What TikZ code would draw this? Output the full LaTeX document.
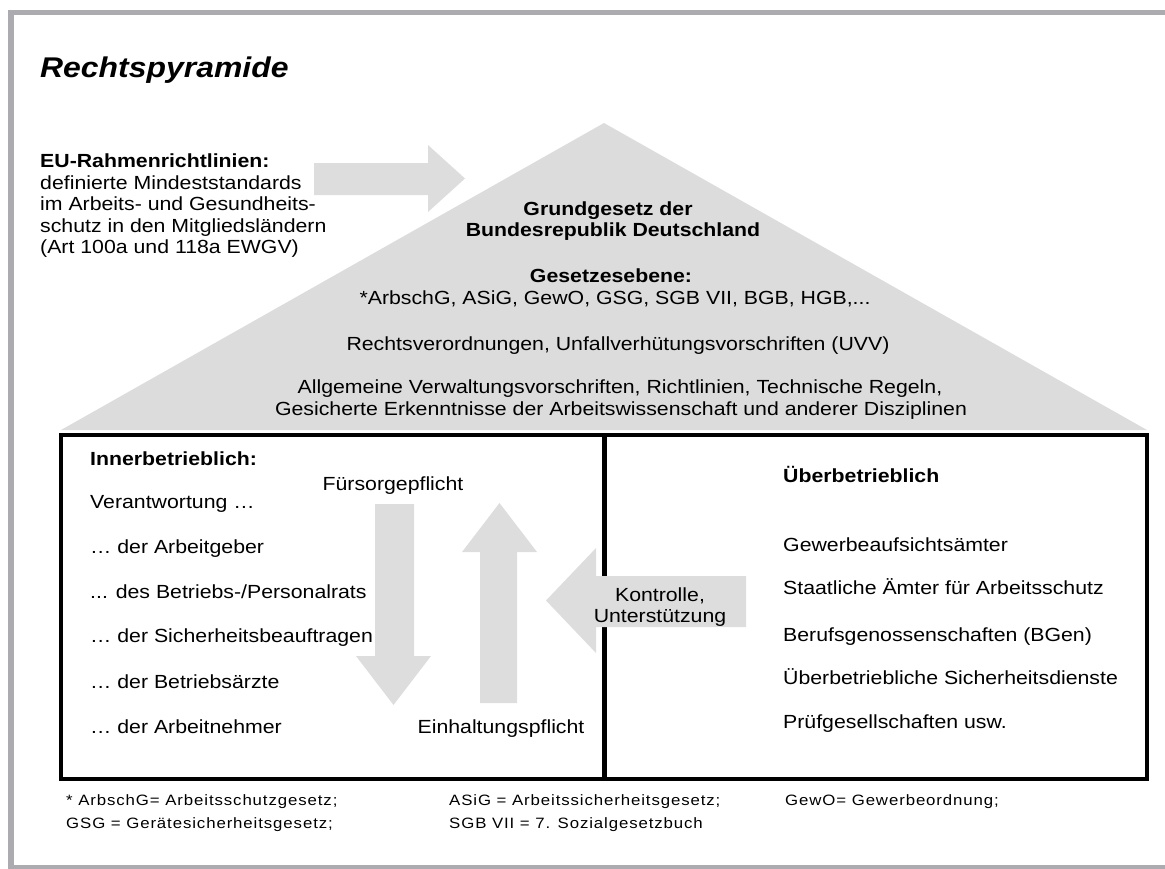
\documentclass[tikz,border=0pt]{standalone}
\usepackage{fontspec}
\setmainfont{Liberation Sans}[FakeStretch=1.12]
\newfontfamily\footfont{Liberation Sans}[FakeStretch=1.12, LetterSpace=6]
\definecolor{framegray}{HTML}{ACACB0}
\definecolor{pyrgray}{HTML}{DCDCDC}
\definecolor{arrgray}{HTML}{DDDDDD}
\begin{document}
\begin{tikzpicture}[x=1pt,y=-1pt,
  txt/.style={inner sep=0pt, font=\fontsize{19}{21}\selectfont},
  btxt/.style={inner sep=0pt, font=\fontsize{19}{21}\selectfont\bfseries},
  foot/.style={inner sep=0pt, font=\footfont\fontsize{15}{18}\selectfont},
  bigarrow/.style={fill=arrgray, draw=none}]
\useasboundingbox (0,0) rectangle (1165,868);
\clip (0,0) rectangle (1165,868);
% outer frame
\draw[framegray, line width=5.5] (11,12.5) rectangle (1185,867.5);
% title
\node[inner sep=0pt, anchor=base west, font=\fontsize{28.5}{34}\selectfont\bfseries\itshape] (title) at (40,77) {Rechtspyramide};
% pyramid
\fill[pyrgray] (61,430) -- (604,123) -- (1147,430) -- cycle;
% EU arrow
\fill[bigarrow] (314,163) -- (428,163) -- (428,145) -- (465,178.5) -- (428,212) -- (428,195) -- (314,195) -- cycle;
% EU text
\node[btxt, anchor=base west] (eu1) at (40,167) {EU-Rahmenrichtlinien:};
\node[txt, anchor=base west] (eu2) at (40,189) {definierte Mindeststandards};
\node[txt, anchor=base west] (eu3) at (40,210) {im Arbeits- und Gesundheits-};
\node[txt, anchor=base west] (eu4) at (40,232) {schutz in den Mitgliedsländern};
\node[txt, anchor=base west] (eu5) at (40,253) {(Art 100a und 118a EWGV)};
% pyramid text
\node[btxt, anchor=base] (p1) at (608,215) {Grundgesetz der};
\node[btxt, anchor=base] (p2) at (613,236) {Bundesrepublik Deutschland};
\node[btxt, anchor=base] (p3) at (611,282) {Gesetzesebene:};
\node[txt, anchor=base] (p4) at (615,304) {*ArbschG, ASiG, GewO, GSG, SGB VII, BGB, HGB,...};
\node[txt, anchor=base] (p5) at (618,350) {Rechtsverordnungen, Unfallverhütungsvorschriften (UVV)};
\node[txt, anchor=base] (p6) at (620,393) {Allgemeine Verwaltungsvorschriften, Richtlinien, Technische Regeln,};
\node[txt, anchor=base] (p7) at (621,415) {Gesicherte Erkenntnisse der Arbeitswissenschaft und anderer Disziplinen};
% box
\draw[line width=4] (61,435) rectangle (1147,779);
\draw[line width=5] (604,435) -- (604,779);
% inner arrows
\fill[bigarrow] (375,504) -- (414,504) -- (414,656) -- (431,656) -- (393.5,705) -- (356,656) -- (375,656) -- cycle;
\fill[bigarrow] (480,703) -- (517,703) -- (517,552) -- (537,552) -- (499.5,503) -- (462,552) -- (480,552) -- cycle;
\fill[bigarrow] (746,576) -- (746,627) -- (596,627) -- (596,653) -- (546,600.5) -- (596,548) -- (596,576) -- cycle;
% left box text
\node[btxt, anchor=base west] (ib) at (90,465) {Innerbetrieblich:};
\node[txt, anchor=base west] (l1) at (90,508) {Verantwortung …};
\node[txt, anchor=base west] (l2) at (90,553) {… der Arbeitgeber};
\node[txt, anchor=base west] (l3) at (90,598) {... des Betriebs-/Personalrats};
\node[txt, anchor=base west] (l4) at (90,642) {… der Sicherheitsbeauftragen};
\node[txt, anchor=base west] (l5) at (90,688) {… der Betriebsärzte};
\node[txt, anchor=base west] (l6) at (90,733) {… der Arbeitnehmer};
\node[txt, anchor=base] (fp) at (393,490) {Fürsorgepflicht};
\node[txt, anchor=base] (ep) at (501,733) {Einhaltungspflicht};
\node[txt, anchor=base] (k1) at (660,601) {Kontrolle,};
\node[txt, anchor=base] (k2) at (660,622) {Unterstützung};
% right box text
\node[btxt, anchor=base west] (ub) at (783,482) {Überbetrieblich};
\node[txt, anchor=base west] (r1) at (783,551) {Gewerbeaufsichtsämter};
\node[txt, anchor=base west] (r2) at (783,594) {Staatliche Ämter für Arbeitsschutz};
\node[txt, anchor=base west] (r3) at (783,641) {Berufsgenossenschaften (BGen)};
\node[txt, anchor=base west] (r4) at (783,684) {Überbetriebliche Sicherheitsdienste};
\node[txt, anchor=base west] (r5) at (783,728) {Prüfgesellschaften usw.};
% footnote
\node[foot, anchor=base west] (f1) at (66,805) {* ArbschG= Arbeitsschutzgesetz;};
\node[foot, anchor=base west] (f2) at (449,805) {ASiG = Arbeitssicherheitsgesetz;};
\node[foot, anchor=base west] (f3) at (785,805) {GewO= Gewerbeordnung;};
\node[foot, anchor=base west] (f4) at (66,828) {GSG = Gerätesicherheitsgesetz;};
\node[foot, anchor=base west] (f5) at (449,828) {SGB VII = 7.  Sozialgesetzbuch};
\end{tikzpicture}
\end{document}
